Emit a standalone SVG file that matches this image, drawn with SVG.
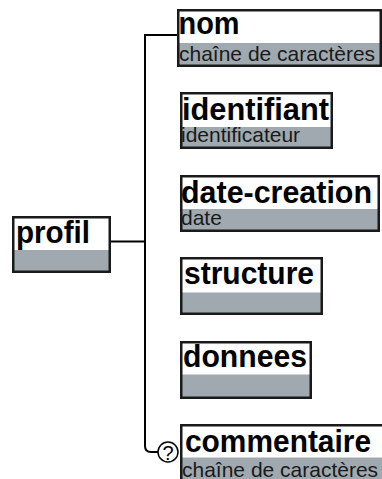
<svg xmlns="http://www.w3.org/2000/svg" width="382" height="479" viewBox="0 0 382 479">
<style>
.bg{fill:#ffffff}
.gr{fill:#9fa9af}
.bd{fill:none;stroke:#1a1a1a;stroke-width:2.5}
.t{font-family:"Liberation Sans",Arial,sans-serif;font-weight:bold;font-size:32px;fill:#000}
.s{font-family:"Liberation Sans",Arial,sans-serif;font-size:21px;fill:#1a1a1a}
.c{fill:none;stroke:#000;stroke-width:2}
</style>
<rect width="382" height="479" fill="#fff"/>
<g id="connectors">
<path class="c" d="M177,35 H145 V446 Q145,452 151,452 H158.5"/>
<path class="c" d="M111,241.5 H145" stroke-width="1.5"/>
</g>
<g id="nom">
<rect class="bg" x="177" y="9" width="205" height="58"/>
<rect class="gr" x="177" y="43" width="205" height="24"/>
<rect class="bd" x="178.25" y="10.25" width="202.5" height="55.5"/>
<text class="t" x="178.5" y="34" textLength="61" lengthAdjust="spacingAndGlyphs">nom</text>
<text class="s" x="179" y="61">chaîne de caractères</text>
</g>
<g id="identifiant">
<rect class="bg" x="180" y="92" width="153" height="57"/>
<rect class="gr" x="180" y="127" width="153" height="22"/>
<rect class="bd" x="181.25" y="93.25" width="150.5" height="54.5"/>
<text class="t" x="182" y="120" textLength="147" lengthAdjust="spacingAndGlyphs">identifiant</text>
<text class="s" x="181" y="142">identificateur</text>
</g>
<g id="date-creation">
<rect class="bg" x="180" y="175" width="200" height="57"/>
<rect class="gr" x="180" y="209" width="200" height="23"/>
<rect class="bd" x="181.25" y="176.25" width="197.5" height="54.5"/>
<text class="t" x="181" y="203" textLength="191" lengthAdjust="spacingAndGlyphs">date-creation</text>
<text class="s" x="181" y="225">date</text>
</g>
<g id="profil">
<rect class="bg" x="12" y="216" width="99" height="57"/>
<rect class="gr" x="12" y="250" width="99" height="23"/>
<rect class="bd" x="13.25" y="217.25" width="96.5" height="54.5"/>
<text class="t" x="16" y="243" textLength="74" lengthAdjust="spacingAndGlyphs">profil</text>
</g>
<g id="structure">
<rect class="bg" x="180" y="257" width="143" height="58"/>
<rect class="gr" x="180" y="292.5" width="143" height="22.5"/>
<rect class="bd" x="181.25" y="258.25" width="140.5" height="55.5"/>
<text class="t" x="184" y="283.5" textLength="130" lengthAdjust="spacingAndGlyphs">structure</text>
</g>
<g id="donnees">
<rect class="bg" x="180" y="341" width="132" height="58"/>
<rect class="gr" x="180" y="374.5" width="132" height="24.5"/>
<rect class="bd" x="181.25" y="342.25" width="129.5" height="55.5"/>
<text class="t" x="183" y="367" textLength="124" lengthAdjust="spacingAndGlyphs">donnees</text>
</g>
<g id="commentaire">
<rect class="bg" x="180" y="424" width="210" height="60"/>
<rect class="gr" x="180" y="457.5" width="210" height="26"/>
<rect class="bd" x="181.25" y="425.25" width="210" height="60"/>
<text class="t" x="185" y="452" textLength="186" lengthAdjust="spacingAndGlyphs">commentaire</text>
<text class="s" x="182" y="476.5">chaîne de caractères</text>
<circle cx="168" cy="452" r="10" fill="#fff" stroke="#000" stroke-width="1.5"/>
<text x="168" y="459.5" text-anchor="middle" font-family="'Liberation Sans',Arial,sans-serif" font-size="20" fill="#000">?</text>
</g>
</svg>
